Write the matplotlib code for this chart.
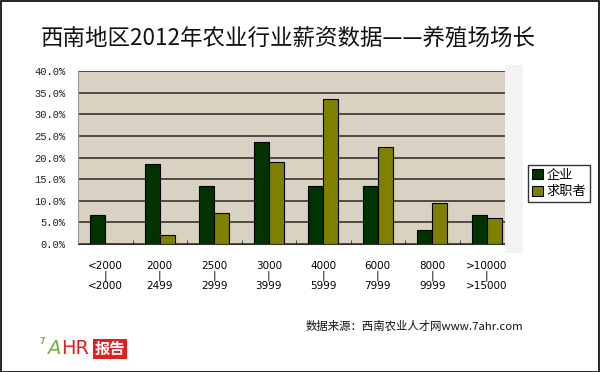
import matplotlib
matplotlib.use("Agg")
import matplotlib.pyplot as plt
import numpy as np
from matplotlib.patches import Rectangle

plt.rcParams['font.family'] = ['Noto Sans CJK SC', 'DejaVu Sans']

# data
ranges_low = ["<2000", "2000", "2500", "3000", "4000", "6000", "8000", ">10000"]
ranges_high = ["<2000", "2499", "2999", "3999", "5999", "7999", "9999", ">15000"]
company = [6.7, 18.5, 13.4, 23.6, 13.4, 13.4, 3.3, 6.7]
seekers = [0.0, 2.1, 7.1, 18.9, 33.5, 22.5, 9.5, 5.9]
series_names = ["企业", "求职者"]
title = "西南地区2012年农业行业薪资数据——养殖场场长"
source = "数据来源：西南农业人才网www.7ahr.com"

W, H = 600, 372
fig = plt.figure(figsize=(W / 100, H / 100), dpi=100)
fig.patch.set_facecolor("white")

# outer black frame
fig.patches.append(Rectangle((0.5 / W, 0.5 / H), 1 - 1.5 / W, 1 - 1.5 / H,
                             transform=fig.transFigure, fill=False,
                             edgecolor="black", lw=1.2))

# faint shadow to the right of the plot area
fig.patches.append(Rectangle((505 / W, (H - 253) / H), 18 / W, 188 / H,
                             transform=fig.transFigure, facecolor="#F3F3F3",
                             edgecolor="none", zorder=0))

left, right, top, bottom = 78, 514, 71, 244
ax = fig.add_axes([left / W, (H - bottom) / H, (right - left) / W, (bottom - top) / H])
ax.set_facecolor("#D9D2C3")

x = np.arange(len(company))
bw = 0.275
ax.bar(x - bw / 2, company, bw, color="#003300", edgecolor="black", lw=0.8,
       label=series_names[0], zorder=3)
ax.bar(x + bw / 2, seekers, bw, color="#808000", edgecolor="black", lw=0.8,
       label=series_names[1], zorder=3)

ax.set_xlim(-0.5, len(company) - 0.5)
ax.set_ylim(0, 40)
yt = np.arange(0, 41, 5)
ax.set_yticks(yt)
ax.set_yticklabels(["%.1f%%" % v for v in yt], family="Liberation Mono",
                   fontsize=7.5, color="#222222")
ax.tick_params(axis="y", length=0, pad=9)
ax.grid(axis="y", color="#2A261E", lw=1.1, zorder=1)

ax.set_xticks(x)
ax.set_xticklabels(["%s\n|\n%s" % (a, b) for a, b in zip(ranges_low, ranges_high)],
                   fontsize=7.5, linespacing=1.0, family="DejaVu Sans")
ax.tick_params(axis="x", length=0, pad=12)
ax.set_xticks(np.arange(0.5, len(company) - 1, 1), minor=True)
ax.tick_params(axis="x", which="minor", direction="in", length=3, color="#333333")

for s in ["top", "right"]:
    ax.spines[s].set_visible(False)
ax.spines["left"].set_color("#999999")
ax.spines["bottom"].set_color("#333333")

leg = fig.legend(loc="upper left", bbox_to_anchor=(528 / W, (H - 165) / H),
                 fontsize=9.5, frameon=True, fancybox=False, edgecolor="black",
                 handlelength=0.8, handleheight=0.8, handletextpad=0.3,
                 borderpad=0.3, labelspacing=0.25, borderaxespad=0)
leg.get_frame().set_linewidth(1)

fig.text(41 / W, (H - 38) / H, title, fontsize=16.2, va="center", ha="left",
         color="#111111")
fig.text(306 / W, (H - 326) / H, source, fontsize=8.2, va="center", ha="left",
         color="#111111")

# logo: 7AHR报告
fig.text(40 / W, (H - 342) / H, "7", fontsize=5.5, color="#6DB33F",
         fontweight="bold", va="center", ha="left", family="DejaVu Sans")
fig.text(47 / W, (H - 349) / H, "A", fontsize=14, color="#6DB33F",
         style="italic", va="center", ha="left", family="DejaVu Sans")
fig.text(61 / W, (H - 349) / H, "HR", fontsize=14, color="#E02020",
         va="center", ha="left", family="DejaVu Sans")
fig.text(95 / W, (H - 349) / H, "报告", fontsize=11, color="white",
         fontweight="bold", va="center", ha="left",
         bbox=dict(boxstyle="square,pad=0.12", fc="#E02020", ec="none"))

fig.savefig("out.png", dpi=100)
